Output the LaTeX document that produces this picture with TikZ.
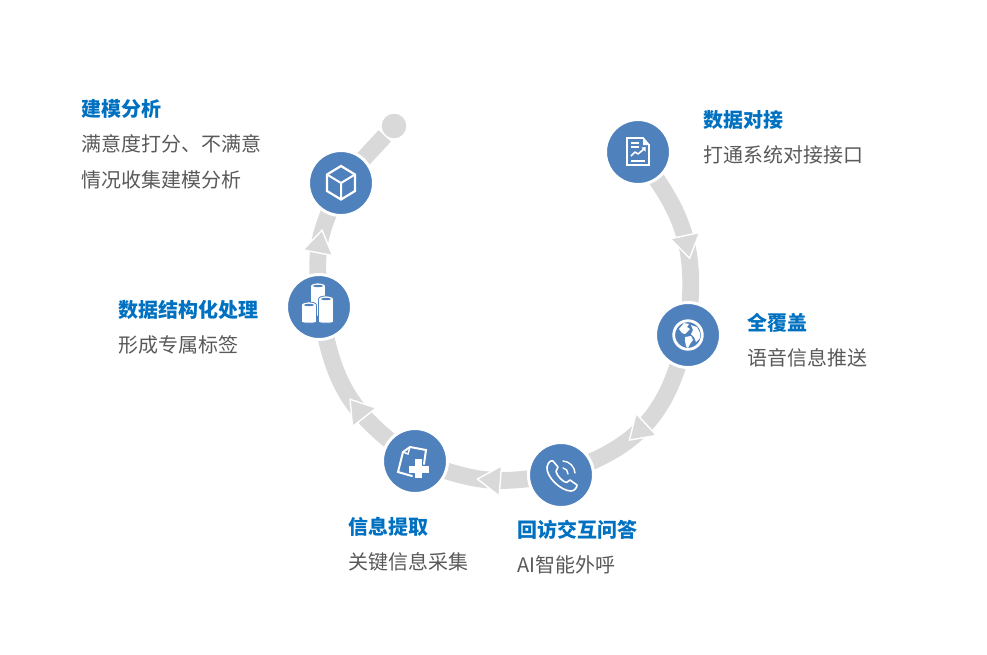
\documentclass[tikz,border=0pt]{standalone}
\usepackage{fontspec}
\setmainfont{Noto Sans CJK SC}
\usetikzlibrary{decorations.markings,backgrounds}

\definecolor{discblue}{HTML}{4F81BD}
\definecolor{flowgray}{HTML}{D9D9D9}
\definecolor{headblue}{HTML}{0070C0}
\definecolor{bodygray}{HTML}{595959}

\tikzset{
    disc/.style={circle, fill=discblue, draw=white, line width=0.075cm, inner sep=0pt, outer sep=0pt, minimum size=1.625cm},
    tailbar/.style={draw=flowgray, line width=0.42cm},
    flow/.style={tailbar, postaction={decorate, decoration={markings, mark=at position #1 with {
        \filldraw[draw=white, fill=flowgray, line width=0.035cm] (-11,-15) -- (12,0) -- (-11,15) -- cycle;}}}},
    head/.style={anchor=west, text=headblue, font=\fontsize{14.2}{17}\selectfont\bfseries},
    body/.style={anchor=north west, align=left, inner sep=0pt, text=bodygray, font=\fontsize{14.2}{25.5}\selectfont},
    icon/.style={draw=white, line width=0.045cm, line join=round, line cap=round},
    iconfill/.style={fill=white, draw=none}
}

\begin{document}
\begin{tikzpicture}[x=0.025cm, y=-0.025cm]
\useasboundingbox (0,0) rectangle (987,654);

% steps
    \node[disc] (report) at (638,152) {};
    \node[disc] (globe) at (688,335) {};
    \node[disc] (phone) at (561,475) {};
    \node[disc] (extract) at (415,461) {};
    \node[disc] (rolls) at (319,307) {};
    \node[disc] (cube) at (341,183) {};
    \node[circle, fill=flowgray, draw=white, line width=0.03cm, inner sep=0pt, minimum size=0.65cm] (tail) at (394,126) {};

% connectors
\begin{scope}[on background layer]
    \draw[flow=0.57] (report) to[bend left=19] (globe);
    \draw[flow=0.58] (globe) to[bend left=24] (phone);
    \draw[flow=0.47] (phone) to[bend left=12] (extract);
    \draw[flow=0.37] (extract) to[bend left=19] (rolls);
    \draw[flow=0.52] (rolls) to[bend left=12] (cube);
    \draw[tailbar] (cube) to (tail);
\end{scope}

% report icon
\begin{scope}[shift={(report.center)}]
    \draw[icon, line join=miter] (-11,-14) -- (5,-14) -- (11,-7) -- (11,13) -- (-11,13) -- cycle;
    \fill[iconfill] (5,-14) -- (5,-7) -- (11,-7) -- cycle;
    \draw[icon, line width=0.035cm, line cap=butt] (-7,-9) -- (1,-9) (-7,-5) -- (1,-5) (-7,9) -- (7,9);
    \draw[icon, line width=0.04cm, line cap=butt] (-7,4) -- (-3,0) -- (0,2) -- (6,-3);
    \fill[iconfill] (7.5,-5) -- (7.5,-0.5) -- (3.5,-4.5) -- cycle;
\end{scope}

% globe icon
\begin{scope}[shift={(globe.center)}]
    \draw[icon, line width=0.07cm] (0,0) circle (14.3);
    \fill[iconfill] (-9,-6) -- (-4,-12) -- (1,-11) -- (-1,-8) -- (2,-6) -- (-1,-3) -- (-3,-1) -- (-6,-2) -- cycle;
    \fill[iconfill] (-3,2) -- (3,1) -- (5,5) -- (2,9) -- (0,13) -- (-2,11) -- (-3,6) -- cycle;
    \fill[iconfill] (3,-10) -- (9,-8) -- (12,-2) -- (12,3) -- (8,7) -- (6,2) -- (3,-1) -- (5,-5) -- cycle;
\end{scope}

% phone icon
\begin{scope}[shift={(phone.center)}]
    \draw[icon, line width=0.04cm] (-14,-8) .. controls (-13,-13) and (-10,-15) .. (-8,-14)
        -- (-3,-8) -- (-5,-3.5) .. controls (-4,1) and (2,7) .. (5.5,7.5)
        -- (9,5) -- (16,10) .. controls (16,12) and (14,16) .. (10,16)
        .. controls (0,16) and (-15,2) .. (-14,-8) -- cycle;
    \draw[icon, line width=0.035cm] (2,-7) .. controls (5,-7) and (7,-4) .. (7,-1);
    \draw[icon, line width=0.035cm] (2,-14) .. controls (8,-14) and (14,-8) .. (14,-2);
\end{scope}

% extract icon
\begin{scope}[shift={(extract.center)}]
    \draw[icon, line join=miter, line width=0.05cm] (-12,-9) -- (-5,-14) -- (11,-11) -- (9,3);
    \draw[icon, line join=miter, line width=0.05cm] (-12,-9) -- (-17,11) -- (-3,15);
    \draw[icon, line join=miter, line width=0.035cm] (-5,-14) -- (-7,-7) -- (-12,-9);
    \fill[iconfill] (-6,5) rectangle (14,12);
    \fill[iconfill] (0,-2) rectangle (7,17);
\end{scope}

% rolls icon
\begin{scope}[shift={(rolls.center)}]
    \foreach \cx/\ctop/\cbot in {-1/-21/9, -10/-2/16, 7/-8/16} {
        \filldraw[draw=discblue, fill=white, line width=0.02cm] (\cx-7.5,\ctop) -- (\cx-7.5,\cbot-1) .. controls (\cx-7.5,\cbot+0.5) and (\cx+7.5,\cbot+0.5) .. (\cx+7.5,\cbot-1) -- (\cx+7.5,\ctop) .. controls (\cx+7.5,\ctop-4) and (\cx-7.5,\ctop-4) .. (\cx-7.5,\ctop) -- cycle;
        \fill[discblue] (\cx,\ctop) ellipse (5 and 1.2);
    }
\end{scope}

% cube icon
\begin{scope}[shift={(cube.center)}]
    \draw[icon, line width=0.055cm, line join=miter] (0,-17) -- (14,-8.5) -- (14,8) -- (0,16.5) -- (-14,8) -- (-14,-8.5) -- cycle;
    \draw[icon, line width=0.05cm, line cap=butt] (-14,-8.5) -- (0,0) -- (14,-8.5) (0,0) -- (0,16.5);
\end{scope}

% labels
    \node[head, inner sep=0pt] (modelhead) at (81,109) {建模分析};
    \node[body] (modelbody) at (81,134.5) {满意度打分、不满意\\情况收集建模分析};
    \node[head, inner sep=0pt] (reporthead) at (703,120) {数据对接};
    \node[body] (reportbody) at (703,145.5) {打通系统对接接口};
    \node[head, inner sep=0pt] (globehead) at (747,323) {全覆盖};
    \node[body] (globebody) at (747,348.5) {语音信息推送};
    \node[head, inner sep=0pt] (phonehead) at (517,530) {回访交互问答};
    \node[body] (phonebody) at (517,555.5) {AI智能外呼};
    \node[head, inner sep=0pt] (extracthead) at (348,527) {信息提取};
    \node[body] (extractbody) at (348,552.5) {关键信息采集};
    \node[head, inner sep=0pt] (rollshead) at (118,310) {数据结构化处理};
    \node[body] (rollsbody) at (118,335.5) {形成专属标签};

\end{tikzpicture}
\end{document}
